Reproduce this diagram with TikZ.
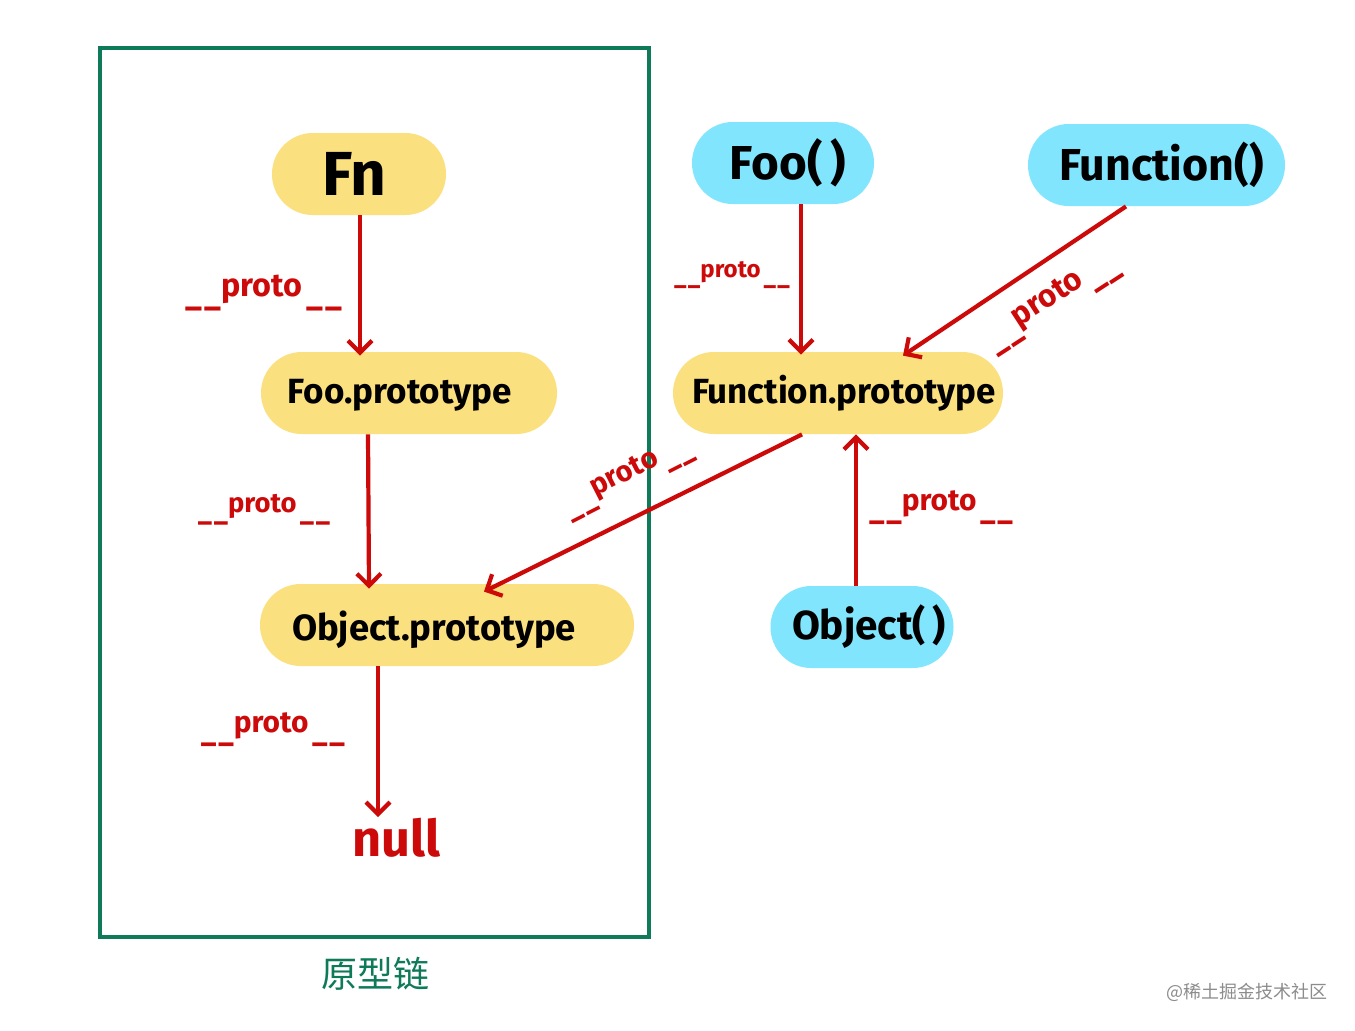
\documentclass[tikz,border=0pt]{standalone}
\usepackage{fontspec}
\usepackage{graphicx}
\usetikzlibrary{arrows.meta}
\setmainfont{Fira Sans}
\newfontfamily\cjk{Noto Sans CJK SC}
\definecolor{chainyellow}{HTML}{FBE07F}
\definecolor{ctorblue}{HTML}{80E5FD}
\definecolor{protored}{HTML}{CC0A0A}
\definecolor{chaingreen}{HTML}{0F7A5A}
\newcommand\fitlbl[3]{\kern#1pt\resizebox{#2pt}{!}{\bfseries #3}}
\newcommand\droplbl[4]{\kern#1pt\raisebox{-#3pt}[\dimexpr\height+#3pt\relax][\dimexpr\depth-#3pt\relax]{\resizebox{#2pt}{!}{\bfseries #4}}}
\newcommand\protolbl[1]{\resizebox{#1pt}{!}{\color{protored}\bfseries\_\kern.06em\_\raisebox{.3em}{proto}\kern.12em\_\kern.06em\_}}
\tikzset{
  pill/.style={rounded corners=20.4pt,minimum height=41pt,inner sep=0pt,text=black},
  yellowpill/.style={pill,fill=chainyellow},
  bluepill/.style={pill,fill=ctorblue},
  link/.style={draw=protored,line width=2.1pt,-{Straight Barb[length=6pt,width=12pt,line width=2.1pt]}},
  protonote/.style={inner sep=0pt,text=protored},
}
\begin{document}
\begin{tikzpicture}[x=.5pt,y=-.5pt]
\useasboundingbox[fill=white] (0,0) rectangle (1355,1030);
\node[draw=chaingreen,line width=2pt,minimum width=274.5pt,minimum height=444.5pt,inner sep=0pt] (chain) at (374.5,492.5) {};
\node[inner sep=0pt,text=chaingreen,font=\cjk\fontsize{18}{20}\selectfont] (chainlabel) at (375,974) {原型链};
\node[yellowpill,minimum width=87pt] (fn) at (359,174) {\fitlbl{-5}{32}{Fn}};
\node[yellowpill,minimum width=148pt] (foop) at (409,393) {\droplbl{-9}{112}{.5}{Foo.prototype}};
\node[yellowpill,minimum width=187pt] (objp) at (447,625) {\droplbl{-13}{142}{1.3}{Object.prototype}};
\node[bluepill,minimum width=91pt] (foo) at (783,163) {\fitlbl{5}{58}{Foo(\,)}};
\node[bluepill,minimum width=128.5pt] (func) at (1156.5,165) {\fitlbl{5}{102}{Function()}};
\node[yellowpill,minimum width=165pt] (funcp) at (838,393) {\fitlbl{6}{152}{Function.prototype}};
\node[bluepill,minimum width=91.5pt] (obj) at (862,627) {\fitlbl{7}{77}{Object(\,)}};
\node[inner sep=0pt,text=protored] (null) at (396,838) {\resizebox{44pt}{!}{\bfseries null}};
\draw[link] ([xshift=.5pt]fn.south) -- ([xshift=-24.5pt,yshift=-2pt]foop.north);
\draw[link] ([xshift=-20.5pt]foop.south) -- ([xshift=-39pt,yshift=-2.5pt]objp.north);
\draw[link] ([xshift=-34.5pt]objp.south) -- ([xshift=-9pt,yshift=.5pt]null.north);
\draw[link] ([xshift=9pt]foo.south) -- ([xshift=-18.5pt,yshift=-1.5pt]funcp.north);
\draw[link] ([xshift=-15.25pt]func.south) -- ([xshift=32.5pt,yshift=-2pt]funcp.north);
\draw[link] ([xshift=-18pt]funcp.south) -- ([xshift=18.5pt,yshift=-4pt]objp.north);
\draw[link] ([xshift=-3pt]obj.north) -- ([xshift=9pt]funcp.south);
\node[protonote] (p1) at (264,293) {\protolbl{78}};
\node[protonote] (p2) at (264,510) {\protolbl{66}};
\node[protonote] (p3) at (273,730) {\protolbl{72}};
\node[protonote] (p4) at (732,275) {\protolbl{58}};
\node[protonote] (p5) at (941,508) {\protolbl{72}};
\node[protonote,rotate=33] (p6) at (1052,302) {\protolbl{76}};
\node[protonote,rotate=27] (p7) at (628,477) {\protolbl{70}};
\node[inner sep=0pt,text=black!45,font=\cjk\fontsize{9}{11}\selectfont] (mark) at (1247,992) {@稀土掘金技术社区};
\end{tikzpicture}
\end{document}
